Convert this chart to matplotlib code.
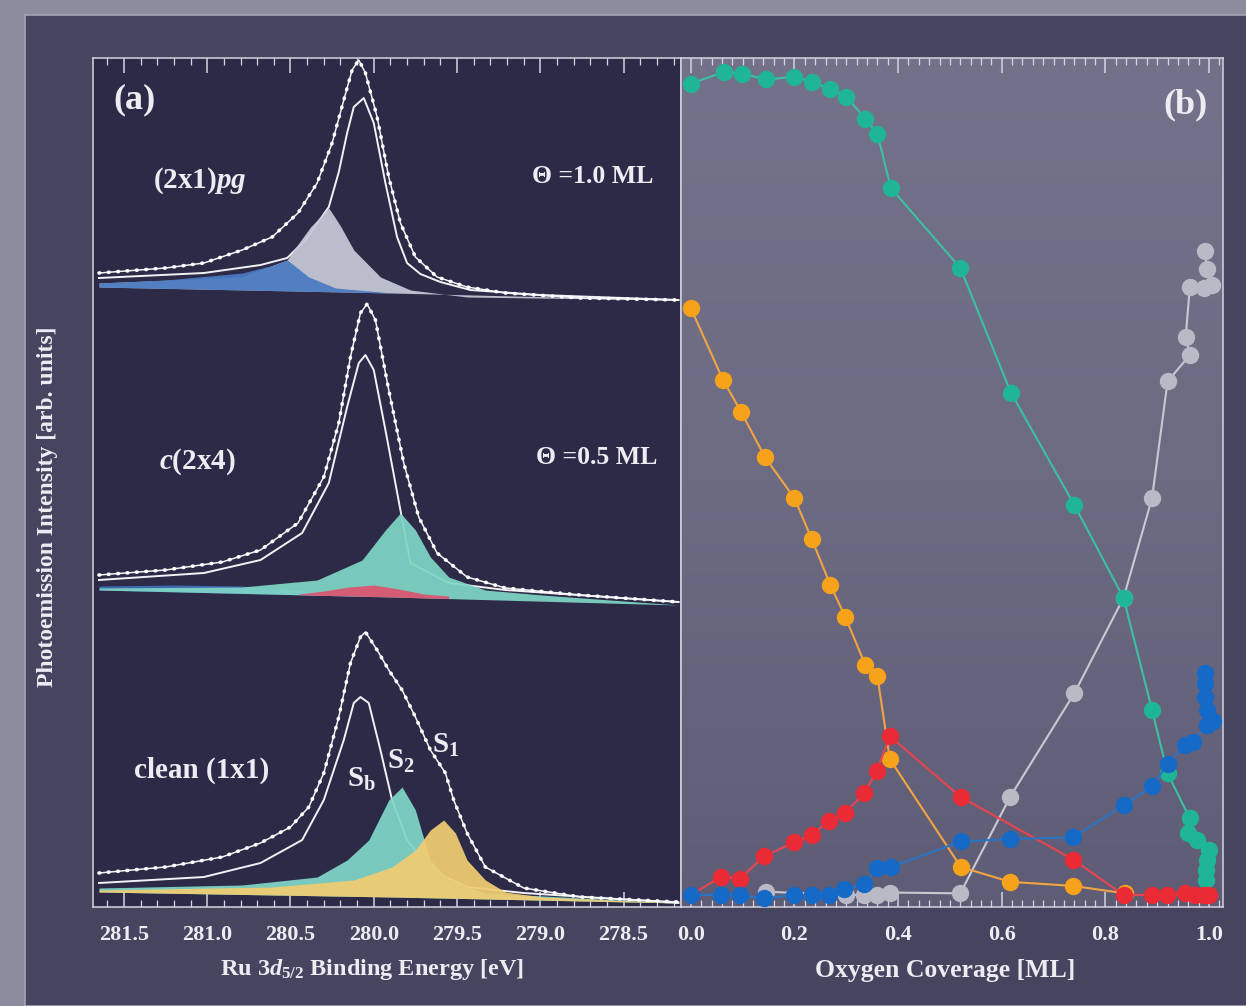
import matplotlib.pyplot as plt
import numpy as np
from matplotlib.colors import LinearSegmentedColormap
from matplotlib.patches import Rectangle
from matplotlib.ticker import FormatStrFormatter, MultipleLocator

plt.rcParams['font.family'] = ['Liberation Serif', 'DejaVu Serif']
plt.rcParams['font.weight'] = 'bold'
plt.rcParams['mathtext.fontset'] = 'custom'
plt.rcParams['mathtext.rm'] = 'Liberation Serif:bold'
plt.rcParams['mathtext.it'] = 'Liberation Serif:italic:bold'
plt.rcParams['mathtext.bf'] = 'Liberation Serif:bold'

# ---- panel (a): Ru 3d5/2 spectra, intensity above each spectrum's own baseline ----
PG_DATA_BE = [281.65, 281.25, 281.02, 280.79, 280.61, 280.455, 280.34, 280.25, 280.18, 280.13, 280.09,
              280.05, 279.98, 279.91, 279.84, 279.75, 279.62, 279.44, 279.21, 278.76, 278.17]
PG_DATA = [2.7, 3.2, 3.7, 5.0, 6.3, 8.7, 11.7, 15.7, 20.0, 23.0, 24.0,
           22.7, 18.3, 12.3, 7.7, 4.3, 2.3, 1.3, 0.7, 0.2, 0.0]
PG_BULK_BE = [281.65, 281.02, 280.68, 280.52, 280.41, 280.27, 280.21, 280.16, 280.12, 280.06,
              280.00, 279.93, 279.86, 279.80, 279.72, 279.60, 279.42, 279.0, 278.17]
PG_BULK = [2.2, 2.7, 3.5, 4.2, 6.0, 9.3, 12.8, 16.7, 19.3, 20.2,
           17.7, 11.7, 6.3, 3.7, 2.6, 1.8, 1.0, 0.5, 0.0]
PG_BASE_BE = [281.65, 279.89, 278.17]
PG_BASE = [1.3, 0.7, 0.0]
PG_GRAY_BE = [281.65, 280.80, 280.52, 280.48, 280.38, 280.27, 280.20, 280.12, 279.96, 279.78, 279.44, 278.17]
PG_GRAY = [1.7, 2.3, 4.0, 5.0, 7.3, 9.2, 7.4, 5.0, 2.3, 1.0, 0.3, 0.0]
PG_BLUE_BE = [281.65, 281.25, 280.79, 280.60, 280.52, 280.39, 280.23, 279.89, 278.17]
PG_BLUE = [1.7, 2.0, 2.7, 3.5, 4.0, 2.3, 1.2, 0.7, 0.0]

C24_DATA_BE = [281.65, 281.25, 280.91, 280.68, 280.455, 280.30, 280.21, 280.14, 280.08, 280.04,
               279.99, 279.91, 279.82, 279.73, 279.62, 279.44, 279.21, 278.76, 278.17]
C24_DATA = [3.0, 3.5, 4.3, 5.5, 8.2, 12.8, 18.2, 24.8, 29.2, 30.1,
            28.5, 21.5, 14.2, 8.8, 5.2, 2.8, 1.7, 1.0, 0.3]
C24_BULK_BE = [281.65, 281.02, 280.68, 280.43, 280.27, 280.16, 280.09, 280.05, 280.00, 279.93,
               279.84, 279.78, 279.55, 279.21, 278.17]
C24_BULK = [2.5, 3.2, 4.5, 7.2, 12.2, 19.8, 24.2, 25.0, 23.5, 17.5,
            9.5, 4.2, 2.2, 1.5, 0.3]
C24_BASE_BE = [281.65, 279.89, 278.17]
C24_BASE = [1.5, 0.8, 0.0]
C24_BLUE_BE = [281.65, 281.20, 280.80, 280.40, 280.00]
C24_BLUE = [1.9, 2.0, 1.9, 1.4, 1.0]
C24_CYAN_BE = [281.65, 280.79, 280.34, 280.07, 279.93, 279.84, 279.75, 279.66, 279.55, 279.33, 278.99, 278.17]
C24_CYAN = [1.7, 1.8, 2.5, 4.5, 7.5, 9.2, 7.5, 4.8, 2.8, 1.5, 1.0, 0.0]
C24_RED_BE = [280.45, 280.30, 280.15, 280.00, 279.85, 279.70, 279.55]
C24_RED = [1.1, 1.4, 1.8, 2.0, 1.6, 1.1, 0.9]

CLEAN_DATA_BE = [281.65, 281.25, 280.91, 280.68, 280.50, 280.39, 280.30, 280.21, 280.14, 280.08, 280.05,
                 279.98, 279.91, 279.83, 279.75, 279.66, 279.57, 279.52, 279.44, 279.33, 279.10, 278.76, 278.17]
CLEAN_DATA = [3.0, 3.6, 4.6, 6.0, 7.6, 9.6, 13.0, 18.6, 24.0, 26.6, 27.1,
              25.3, 23.3, 21.3, 18.6, 15.3, 13.0, 10.3, 7.0, 3.6, 1.5, 0.6, 0.1]
CLEAN_BULK_BE = [281.65, 281.02, 280.68, 280.43, 280.30, 280.18, 280.12, 280.08, 280.03, 279.96,
                 279.89, 279.80, 279.66, 279.44, 279.10, 278.17]
CLEAN_BULK = [2.0, 2.6, 4.0, 6.3, 10.3, 16.3, 20.0, 20.6, 20.0, 15.3,
              10.3, 6.3, 3.3, 1.6, 1.0, 0.0]
CLEAN_BASE_BE = [281.65, 279.89, 278.17]
CLEAN_BASE = [1.1, 0.6, 0.0]
CLEAN_S2_BE = [281.65, 280.79, 280.34, 280.16, 280.03, 279.91, 279.83, 279.75, 279.71, 279.66, 279.55, 279.33, 278.17]
CLEAN_S2 = [1.5, 1.8, 2.6, 4.3, 6.3, 10.3, 11.6, 9.3, 7.0, 4.3, 2.3, 1.0, 0.0]
CLEAN_S1_BE = [281.65, 280.61, 280.12, 279.89, 279.75, 279.66, 279.58, 279.51, 279.44, 279.33, 279.21, 278.99, 278.17]
CLEAN_S1 = [1.3, 1.6, 2.3, 3.6, 5.3, 7.3, 8.3, 7.0, 4.3, 2.3, 1.1, 0.6, 0.0]

SPEC_NAMES = ['(2x1)$\\it{pg}$', '$\\it{c}$(2x4)', 'clean (1x1)']
COVER_LABELS = ['\u0398 =1.0 ML', '\u0398 =0.5 ML']
COMP_LABELS = ['S$_\\mathregular{b}$', 'S$_\\mathregular{2}$', 'S$_\\mathregular{1}$']

# ---- panel (b): component intensities vs oxygen coverage ----
COV_TEAL = [0.0, 0.064, 0.099, 0.145, 0.20, 0.233, 0.269, 0.30, 0.337, 0.36, 0.386, 0.52, 0.618,
            0.74, 0.835, 0.89, 0.92, 0.963, 0.96, 0.977, 1.0, 0.996, 0.995, 0.995]
VAL_TEAL = [0.986, 1.0, 0.998, 0.991, 0.994, 0.988, 0.979, 0.970, 0.943, 0.925, 0.859, 0.762, 0.610,
            0.474, 0.361, 0.225, 0.148, 0.093, 0.075, 0.067, 0.055, 0.043, 0.030, 0.018]
COV_ORANGE = [0.0, 0.062, 0.097, 0.143, 0.20, 0.233, 0.269, 0.298, 0.337, 0.36, 0.384, 0.521,
              0.616, 0.738, 0.837]
VAL_ORANGE = [0.713, 0.626, 0.587, 0.532, 0.482, 0.433, 0.377, 0.338, 0.279, 0.266, 0.165, 0.034,
              0.016, 0.011, 0.002]
COV_RED = [0.0, 0.058, 0.095, 0.141, 0.20, 0.233, 0.267, 0.298, 0.335, 0.359, 0.384, 0.521, 0.738,
           0.835, 0.89, 0.919, 0.953, 0.973, 0.99, 1.0]
VAL_RED = [0.0, 0.022, 0.020, 0.047, 0.064, 0.073, 0.090, 0.100, 0.124, 0.151, 0.193, 0.119, 0.043,
           0.0, 0.0, 0.0, 0.002, 0.0, 0.0, 0.0]
COV_BLUE = [0.0, 0.058, 0.095, 0.141, 0.20, 0.233, 0.266, 0.295, 0.335, 0.36, 0.386, 0.521, 0.616,
            0.738, 0.835, 0.89, 0.92, 0.953, 0.969, 0.996, 1.008, 0.996, 0.992, 0.992, 0.992]
VAL_BLUE = [0.0, 0.0, 0.0, -0.004, 0.0, 0.0, 0.0, 0.007, 0.013, 0.033, 0.034, 0.065, 0.068,
            0.070, 0.109, 0.132, 0.159, 0.182, 0.186, 0.207, 0.211, 0.225, 0.241, 0.258, 0.270]
COV_GRAY = [0.145, 0.30, 0.335, 0.36, 0.384, 0.52, 0.616, 0.74, 0.835, 0.89, 0.92, 0.963, 0.955,
            0.963, 0.99, 1.005, 0.996, 0.992]
VAL_GRAY = [0.004, 0.0, 0.0, 0.0, 0.003, 0.002, 0.119, 0.245, 0.361, 0.482, 0.624, 0.656, 0.678,
            0.739, 0.737, 0.741, 0.761, 0.782]

TXT = '#ececf2'
SPINE = '#d4d4de'


def draw_spectrum(ax, offset, data, bulk, base, comps):
    base_be = -np.array(base[0])
    for be, vals, color in comps:
        be = np.array(be)
        bottom = np.interp(-be, base_be, base[1]) + offset
        ax.fill_between(be, bottom, np.array(vals) + offset, color=color,
                        alpha=0.93, lw=0, zorder=4)
    ax.plot(bulk[0], np.array(bulk[1]) + offset, color='#f2f2f6', lw=1.4, zorder=3)
    y = np.array(data[1]) + offset
    ax.plot(data[0], y, color='#f2f2f6', lw=1.1, zorder=5)
    ax.plot(data[0], y, color='#ffffff', lw=2.6, ls=(0, (0.2, 2.4)),
            dash_capstyle='round', zorder=5)


fig = plt.figure(figsize=(12.46, 10.06), dpi=100)
fig.patch.set_facecolor('#8d8b9e')
fig.add_artist(Rectangle((25 / 1246, 0), 1, 991 / 1006, transform=fig.transFigure,
                         facecolor='#46445f', edgecolor='#a4a2b6', lw=1.2, zorder=-10))

ax_a = fig.add_axes([93 / 1246, 99 / 1006, 588 / 1246, 849 / 1006])
ax_b = fig.add_axes([681 / 1246, 99 / 1006, 542 / 1246, 849 / 1006])

# panel (a)
ax_a.set_facecolor('#2c2a47')
draw_spectrum(ax_a, 60.7, (PG_DATA_BE, PG_DATA), (PG_BULK_BE, PG_BULK), (PG_BASE_BE, PG_BASE),
              [(PG_GRAY_BE, PG_GRAY, '#c6c9d6'), (PG_BLUE_BE, PG_BLUE, '#4a7ac2')])
draw_spectrum(ax_a, 30.2, (C24_DATA_BE, C24_DATA), (C24_BULK_BE, C24_BULK), (C24_BASE_BE, C24_BASE),
              [(C24_BLUE_BE, C24_BLUE, '#3e6fb8'), (C24_CYAN_BE, C24_CYAN, '#7fd5c6'),
               (C24_RED_BE, C24_RED, '#dd5470')])
draw_spectrum(ax_a, 0.4, (CLEAN_DATA_BE, CLEAN_DATA), (CLEAN_BULK_BE, CLEAN_BULK),
              (CLEAN_BASE_BE, CLEAN_BASE),
              [(CLEAN_S2_BE, CLEAN_S2, '#80d6c8'), (CLEAN_S1_BE, CLEAN_S1, '#f0cc72')])

ax_a.set_xlim(281.686, 278.155)
ax_a.set_ylim(0, 84.9)
ax_a.set_yticks([])
ax_a.xaxis.set_major_locator(MultipleLocator(0.5))
ax_a.xaxis.set_minor_locator(MultipleLocator(0.1))
ax_a.xaxis.set_major_formatter(FormatStrFormatter('%.1f'))

ax_a.text(0.071, 0.951, '(a)', transform=ax_a.transAxes, fontsize=26, color=TXT,
          ha='center', va='center')
ax_a.text(0.182, 0.856, SPEC_NAMES[0], transform=ax_a.transAxes, fontsize=21, color=TXT,
          ha='center', va='center')
ax_a.text(0.177, 0.524, SPEC_NAMES[1], transform=ax_a.transAxes, fontsize=21, color=TXT,
          ha='center', va='center')
ax_a.text(0.184, 0.161, SPEC_NAMES[2], transform=ax_a.transAxes, fontsize=21, color=TXT,
          ha='center', va='center')
ax_a.text(0.849, 0.860, COVER_LABELS[0], transform=ax_a.transAxes, fontsize=18.5, color=TXT,
          ha='center', va='center')
ax_a.text(0.857, 0.530, COVER_LABELS[1], transform=ax_a.transAxes, fontsize=18.5, color=TXT,
          ha='center', va='center')
for lab, fx, fy in zip(COMP_LABELS, [0.457, 0.524, 0.600], [0.150, 0.172, 0.190]):
    ax_a.text(fx, fy, lab, transform=ax_a.transAxes, fontsize=21, color=TXT,
              ha='center', va='center')

# panel (b)
grad = LinearSegmentedColormap.from_list('bg', ['#5f5d76', '#6d6b82', '#74728a'])
ax_b.imshow(np.linspace(0, 1, 256)[:, None], cmap=grad, origin='lower', aspect='auto',
            extent=[0, 1, 0, 1], transform=ax_b.transAxes, zorder=0)

series = [
    (COV_GRAY, VAL_GRAY, '#c9c9d2', '#b9bac5'),
    (COV_TEAL, VAL_TEAL, '#3bbfa9', '#1fb597'),
    (COV_ORANGE, VAL_ORANGE, '#f0a443', '#f7a21b'),
    (COV_RED, VAL_RED, '#e8444f', '#ea2a35'),
    (COV_BLUE, VAL_BLUE, '#2a74c4', '#1569c7'),
]
for cov, val, lcol, mcol in series:
    ax_b.plot(cov, val, '-o', color=lcol, lw=1.5, ms=11.5, mfc=mcol, mec=mcol, zorder=3)

ax_b.set_xlim(-0.019, 1.027)
ax_b.set_ylim(-0.0146, 1.017)
ax_b.set_yticks([])
ax_b.xaxis.set_major_locator(MultipleLocator(0.2))
ax_b.xaxis.set_minor_locator(MultipleLocator(0.02))
ax_b.xaxis.set_major_formatter(FormatStrFormatter('%.1f'))
ax_b.text(0.93, 0.945, '(b)', transform=ax_b.transAxes, fontsize=26, color=TXT,
          ha='center', va='center')

for ax in (ax_a, ax_b):
    for sp in ax.spines.values():
        sp.set_color(SPINE)
        sp.set_linewidth(1.1)
    ax.tick_params(axis='x', which='both', direction='in', top=True, colors=SPINE,
                   labelcolor=TXT, labelsize=16, pad=13)
    ax.tick_params(axis='x', which='major', length=11, width=1.1)
    ax.tick_params(axis='x', which='minor', length=5, width=0.9)

fig.text(372 / 1246, 1 - 970 / 1006, 'Ru 3$\\it{d}_{\\mathregular{5/2}}$ Binding Energy [eV]',
         fontsize=17.5, color=TXT, ha='center', va='center')
fig.text(945 / 1246, 1 - 970 / 1006, 'Oxygen Coverage [ML]', fontsize=18.5, color=TXT,
         ha='center', va='center')
fig.text(48 / 1246, 1 - 507 / 1006, 'Photoemission Intensity [arb. units]', fontsize=17,
         color=TXT, ha='center', va='center', rotation=90)

fig.savefig('out.png', dpi=100, facecolor=fig.get_facecolor())
